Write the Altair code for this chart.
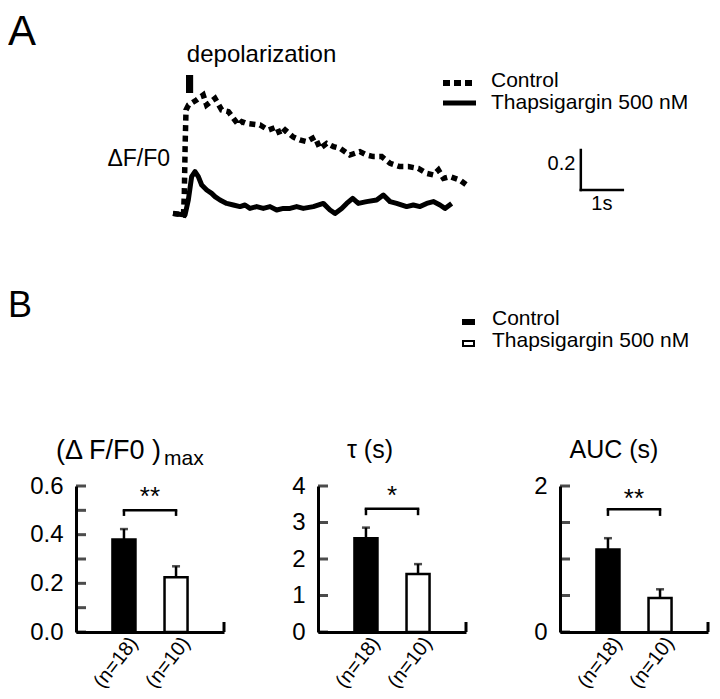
import altair as alt
import pandas as pd

FONT = "Liberation Sans"

# ---------------- Panel A : example traces ----------------
ctrl_t = [0.0, 0.25, 0.27, 0.29, 0.31, 0.37, 0.56, 0.72, 0.80, 1.0, 1.16, 1.32, 1.44, 1.56,
          1.64, 1.75, 2.07, 2.27, 2.47, 2.55, 2.67, 2.86, 3.02, 3.18, 3.38, 3.5, 3.66, 3.82,
          3.98, 4.21, 4.45, 4.61, 4.77, 4.97, 5.17, 5.40, 5.60, 5.84, 6.04, 6.20, 6.32, 6.44,
          6.60, 6.83, 6.99]
ctrl_v = [0.008, 0.0, 0.108, 0.358, 0.525, 0.55, 0.575, 0.60, 0.55, 0.583, 0.525, 0.517,
          0.483, 0.45, 0.467, 0.458, 0.45, 0.425, 0.44, 0.40, 0.425, 0.39, 0.375, 0.367, 0.39,
          0.333, 0.358, 0.342, 0.333, 0.30, 0.317, 0.30, 0.292, 0.292, 0.258, 0.242, 0.242,
          0.233, 0.208, 0.20, 0.225, 0.183, 0.192, 0.175, 0.15]
thap_t = [0.0, 0.286, 0.365, 0.444, 0.524, 0.603, 0.683, 0.802, 0.921, 1.0, 1.119, 1.278,
          1.437, 1.595, 1.714, 1.833, 1.992, 2.151, 2.31, 2.468, 2.627, 2.786, 2.944, 3.103,
          3.341, 3.579, 3.738, 3.857, 4.016, 4.135, 4.278, 4.413, 4.611, 4.849, 5.008, 5.167,
          5.325, 5.563, 5.722, 5.881, 6.04, 6.198, 6.357, 6.476, 6.635]
thap_v = [0.008, 0.0, 0.075, 0.192, 0.217, 0.192, 0.15, 0.125, 0.108, 0.092, 0.075, 0.058,
          0.05, 0.042, 0.05, 0.033, 0.042, 0.033, 0.042, 0.025, 0.033, 0.033, 0.042, 0.033,
          0.042, 0.058, 0.025, 0.008, 0.033, 0.058, 0.083, 0.058, 0.067, 0.075, 0.10, 0.067,
          0.058, 0.042, 0.05, 0.042, 0.058, 0.067, 0.05, 0.033, 0.058]
stim_t = [0.31, 0.48]
stim_v = [0.61, 0.70]
scalebar_t = 9.71
scalebar_v = 0.125
scalebar_dt = 1.0
scalebar_dv = 0.2
trace_names = ["Control", "Thapsigargin 500 nM"]

# ---------------- Panel B : summary bars ----------------
groups = ["(n=18)", "(n=10)"]
conditions = ["Control", "Thapsigargin 500 nM"]
dff_mean = [0.38, 0.225]
dff_sem = [0.043, 0.045]
tau_mean = [2.57, 1.59]
tau_sem = [0.29, 0.27]
auc_mean = [1.13, 0.465]
auc_sem = [0.155, 0.12]


def label(txt, x, y, size, align="left", baseline="alphabetic"):
    return alt.Chart(pd.DataFrame({"s": [txt]})).mark_text(
        font=FONT, fontSize=size, align=align, baseline=baseline, color="black"
    ).encode(text="s:N", x=alt.value(x), y=alt.value(y))


# ---------------- top chart ----------------
TW, TH = 636, 440
xs = alt.Scale(domain=[-2.3095, 12.8333], nice=False, zero=False)
ys = alt.Scale(domain=[-1.165, 1.035], nice=False, zero=False)

ctrl_df = pd.DataFrame({"t": ctrl_t, "v": ctrl_v, "i": list(range(len(ctrl_t)))})
thap_df = pd.DataFrame({"t": thap_t, "v": thap_v, "i": list(range(len(thap_t)))})
XT = alt.X("t:Q", scale=xs, axis=None)
YT = alt.Y("v:Q", scale=ys, axis=None)

ctrl_line = alt.Chart(ctrl_df).mark_line(
    color="black", strokeWidth=5.5, strokeDash=[6, 4.5], strokeCap="butt"
).encode(x=XT, y=YT, order="i:Q")
thap_line = alt.Chart(thap_df).mark_line(
    color="black", strokeWidth=5, strokeJoin="round"
).encode(x=XT, y=YT, order="i:Q")

stim = alt.Chart(pd.DataFrame({"t0": [stim_t[0]], "t1": [stim_t[1]],
                               "v0": [stim_v[0]], "v1": [stim_v[1]]})).mark_rect(color="black").encode(
    x=alt.X("t0:Q", scale=xs, axis=None), x2="t1:Q",
    y=alt.Y("v0:Q", scale=ys, axis=None), y2="v1:Q")

sb_df = pd.DataFrame({
    "t0": [scalebar_t, scalebar_t],
    "t1": [scalebar_t, scalebar_t + scalebar_dt],
    "v0": [scalebar_v, scalebar_v],
    "v1": [scalebar_v + scalebar_dv, scalebar_v],
})
scalebar = alt.Chart(sb_df).mark_rule(color="black", strokeWidth=2.5, strokeCap="square").encode(
    x=alt.X("t0:Q", scale=xs, axis=None), x2="t1:Q",
    y=alt.Y("v0:Q", scale=ys, axis=None), y2="v1:Q")


def data_text(txt, t, v, size, align):
    return alt.Chart(pd.DataFrame({"t": [t], "v": [v], "s": [txt]})).mark_text(
        font=FONT, fontSize=size, align=align, baseline="alphabetic", color="black"
    ).encode(x=alt.X("t:Q", scale=xs, axis=None), y=alt.Y("v:Q", scale=ys, axis=None), text="s:N")


sb_lab_v = data_text("0.2", scalebar_t - 0.13, 0.225, 20, "right")
sb_lab_t = data_text("1s", scalebar_t + scalebar_dt / 2, 0.025, 20, "center")
depol = data_text("depolarization", 0.33, 0.765, 24, "left")
dff_lab = data_text("\u0394F/F0", -0.07, 0.245, 23, "right")

legA_dot = alt.Chart(pd.DataFrame({"k": [0]})).mark_rule(
    color="black", strokeWidth=6, strokeDash=[7, 4]).encode(
    x=alt.value(367), x2=alt.value(400), y=alt.value(75))
legA_sol = alt.Chart(pd.DataFrame({"k": [0]})).mark_rule(
    color="black", strokeWidth=5).encode(
    x=alt.value(367), x2=alt.value(400), y=alt.value(95))
legB_fill = alt.Chart(pd.DataFrame({"k": [0]})).mark_rect(color="black").encode(
    x=alt.value(386), x2=alt.value(399), y=alt.value(311), y2=alt.value(317))
legB_open = alt.Chart(pd.DataFrame({"k": [0]})).mark_rect(
    fill="white", stroke="black", strokeWidth=2).encode(
    x=alt.value(387), x2=alt.value(398), y=alt.value(333), y2=alt.value(338))

top = alt.layer(
    ctrl_line, thap_line, stim, scalebar, sb_lab_v, sb_lab_t, depol, dff_lab,
    legA_dot, legA_sol,
    label(trace_names[0], 415, 79, 21),
    label(trace_names[1], 415, 101, 21),
    legB_fill, legB_open,
    label(conditions[0], 416, 317, 21),
    label(conditions[1], 416, 339, 21),
    label("A", -68, 4, 42, baseline="top"),
    label("B", -68, 281, 36, baseline="top"),
).properties(width=TW, height=TH)


# ---------------- bar panels ----------------
PW, PH = 148, 146


def panel(means, sems, ymax, tick_vals, label_vals, fmt, br_y, br_low, star, star_y, titles):
    df = pd.DataFrame({"g": groups, "cond": conditions, "m": means,
                       "top": [m + s for m, s in zip(means, sems)]})
    xsc = alt.Scale(domain=groups, paddingInner=0.558, paddingOuter=0.70)
    ysc = alt.Scale(domain=[0, ymax], nice=False, zero=True)
    xax = alt.Axis(title=None, labelAngle=-52, labelAlign="right", labelBaseline="middle",
                   labelFont=FONT, labelFontSize=20, labelColor="black", labelPadding=7,
                   labelOffset=10, ticks=False, domainColor="black", domainWidth=3, grid=False)
    yax = alt.Axis(title=None, values=label_vals, format=fmt, ticks=False, labelFont=FONT,
                   labelFontSize=24, labelColor="black", labelPadding=13,
                   domainColor="black", domainWidth=3, grid=False)
    XN = alt.X("g:N", scale=xsc, sort=groups, axis=xax)
    base = alt.Chart(df)
    bars = base.mark_bar(stroke="black", strokeWidth=2.5).encode(
        x=XN,
        y=alt.Y("m:Q", scale=ysc, axis=yax),
        fill=alt.Fill("cond:N", scale=alt.Scale(domain=conditions, range=["black", "white"]),
                      legend=None))
    err = base.mark_rule(color="black", strokeWidth=2.5).encode(
        x=XN, y=alt.Y("m:Q", scale=ysc, axis=yax), y2="top:Q")
    cap = base.mark_tick(color="black", thickness=2.5, size=8, orient="horizontal").encode(
        x=XN, y=alt.Y("top:Q", scale=ysc, axis=yax))
    tk = alt.Chart(pd.DataFrame({"tv": tick_vals})).mark_tick(
        color="black", thickness=3, size=10, orient="horizontal").encode(
        y=alt.Y("tv:Q", scale=ysc, axis=yax), x=alt.value(5))
    bh = alt.Chart(pd.DataFrame({"g1": [groups[0]], "g2": [groups[1]], "y": [br_y]})).mark_rule(
        color="black", strokeWidth=2.5, strokeCap="square").encode(
        x=alt.X("g1:N", scale=xsc, sort=groups, axis=xax, bandPosition=0.5),
        x2=alt.X2("g2:N", bandPosition=0.5),
        y=alt.Y("y:Q", scale=ysc, axis=yax))
    bv = alt.Chart(pd.DataFrame({"g": groups, "lo": [br_low] * 2, "hi": [br_y] * 2})).mark_rule(
        color="black", strokeWidth=2.5).encode(
        x=XN, y=alt.Y("lo:Q", scale=ysc, axis=yax), y2="hi:Q")
    st = alt.Chart(pd.DataFrame({"g": [groups[0]], "y": [star_y], "s": [star]})).mark_text(
        font=FONT, fontSize=26, dx=26, baseline="alphabetic", align="center", color="black").encode(
        x=XN, y=alt.Y("y:Q", scale=ysc, axis=yax), text="s:N")
    stub = alt.Chart(pd.DataFrame({"k": [0]})).mark_rule(color="black", strokeWidth=3).encode(
        x=alt.value(PW), y=alt.value(PH - 10), y2=alt.value(PH))
    tl = [label(*t) for t in titles]
    return alt.layer(bars, err, cap, tk, bh, bv, st, stub, *tl).properties(width=PW, height=PH)


p1 = panel(dff_mean, dff_sem, 0.6, [0, 0.1, 0.2, 0.3, 0.4, 0.5, 0.6], [0, 0.2, 0.4, 0.6], ".1f",
           0.5, 0.477, "**", 0.52,
           [("(\u0394 F/F0 )", -20, -27, 27, "left"), ("max", 88, -21, 21, "left")])
p2 = panel(tau_mean, tau_sem, 4, [0, 1, 2, 3, 4], [0, 1, 2, 3, 4], "d",
           3.38, 3.2, "*", 3.5,
           [("\u03c4 (s)", 52, -28, 25, "center")])
p3 = panel(auc_mean, auc_sem, 2, [0, 0.5, 1, 1.5, 2], [0, 1, 2], "d",
           1.68, 1.59, "**", 1.71,
           [("AUC (s)", 54, -28, 25, "center")])

row = alt.hconcat(p1, p2, p3, spacing=94, bounds="flush")
chart = alt.vconcat(top, row, spacing=38, bounds="flush").properties(
    padding=0, background="white"
).configure_view(strokeWidth=0)

chart.save("out.html", embed_options={"renderer": "svg", "actions": False})
